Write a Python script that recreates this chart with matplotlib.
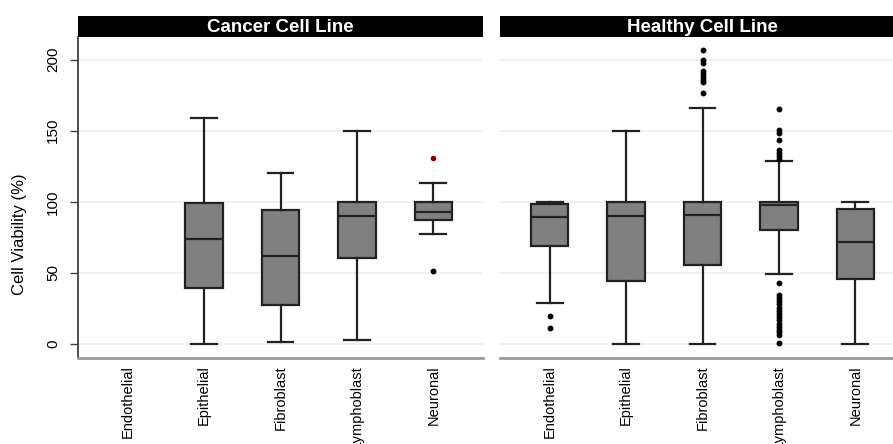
import matplotlib
matplotlib.use("Agg")
import matplotlib.pyplot as plt

plt.rcParams['font.family'] = ['Liberation Sans', 'DejaVu Sans']

categories = ["Endothelial", "Epithelial", "Fibroblast", "Lymphoblast", "Neuronal"]
panels = ["Cancer Cell Line", "Healthy Cell Line"]

# Five-number summaries per category: lower whisker, Q1, median, Q3, upper whisker
cancer_whislo = [None, 0, 1.5, 2.5, 77]
cancer_q1     = [None, 39.5, 27, 60.5, 87]
cancer_med    = [None, 74, 62, 90, 93]
cancer_q3     = [None, 99, 94, 100, 100]
cancer_whishi = [None, 159, 120, 149.5, 113.5]
cancer_fliers = [[], [], [], [], [51.5]]
cancer_flagged = [[], [], [], [], [131]]

healthy_whislo = [29, 0, 0, 49, 0]
healthy_q1     = [69, 44, 55.5, 80, 45.5]
healthy_med    = [89, 90, 91, 97.5, 71.5]
healthy_q3     = [98.5, 100, 100, 100, 95]
healthy_whishi = [100, 150, 166, 129, 100]
healthy_fliers = [
    [19.5, 11],
    [],
    [206.5, 199.5, 198, 192, 190, 188, 186, 184, 176.5],
    [165.5, 150.5, 148.5, 143.5, 136.5, 134.5, 132, 130,
     43, 34.5, 32.5, 30, 28, 25.5, 23, 21, 19, 16.5, 14, 12, 10, 8, 6, 0.5],
    [],
]
healthy_flagged = [[], [], [], [], []]

yticks = [0, 50, 100, 150, 200]

W, H = 893, 444
fig = plt.figure(figsize=(W / 100, H / 100), dpi=100)

ax_w = 405 / W
ax_b = 1 - 358 / H
ax_h = (358 - 37) / H
strip_h = 21 / H
lefts = [78 / W, 500 / W]

box_face = "#808080"
edge = "#222222"


def build_stats(whislo, q1, med, q3, whishi, fliers):
    stats, pos = [], []
    for i in range(len(categories)):
        if med[i] is None:
            continue
        stats.append(dict(whislo=whislo[i], q1=q1[i], med=med[i], q3=q3[i],
                          whishi=whishi[i], fliers=fliers[i]))
        pos.append(i + 1)
    return stats, pos


data = [
    (cancer_whislo, cancer_q1, cancer_med, cancer_q3, cancer_whishi, cancer_fliers, cancer_flagged),
    (healthy_whislo, healthy_q1, healthy_med, healthy_q3, healthy_whishi, healthy_fliers, healthy_flagged),
]

for k, (title, d) in enumerate(zip(panels, data)):
    ax = fig.add_axes([lefts[k], ax_b, ax_w, ax_h])
    stats, pos = build_stats(*d[:6])
    lw = 1.6
    ax.bxp(stats, positions=pos, widths=0.49, capwidths=0.34, patch_artist=True,
           showfliers=True,
           boxprops=dict(facecolor=box_face, edgecolor=edge, linewidth=lw),
           medianprops=dict(color=edge, linewidth=lw),
           whiskerprops=dict(color=edge, linewidth=lw),
           capprops=dict(color=edge, linewidth=lw),
           flierprops=dict(marker="o", markerfacecolor="black", markeredgecolor="black",
                           markersize=3.2, linestyle="none"),
           zorder=3)
    for i, pts in enumerate(d[6]):
        if pts:
            ax.plot([i + 1] * len(pts), pts, "o", color="#8b0000", markersize=3,
                    zorder=4)

    ax.set_xlim(0.35, 5.65)
    ax.set_ylim(-10, 216)
    ax.set_yticks(yticks)
    ax.set_xticks(range(1, len(categories) + 1))
    ax.set_xticklabels(categories, rotation=90, fontsize=10.5, va="top", ha="center")
    ax.tick_params(axis="x", length=0, pad=5)
    for y in yticks:
        ax.axhline(y, color="#e9f1f2", linewidth=1.2, zorder=0)

    for s in ["top", "right"]:
        ax.spines[s].set_visible(False)
    ax.spines["bottom"].set_color("#9a9a9a")
    ax.spines["bottom"].set_linewidth(2)

    if k == 0:
        ax.spines["left"].set_color("#404040")
        ax.spines["left"].set_linewidth(1.3)
        ax.tick_params(axis="y", length=6, width=1, color="#404040", pad=7,
                       labelsize=11)
        for lab in ax.get_yticklabels():
            lab.set_rotation(90)
            lab.set_va("center")
    else:
        ax.spines["left"].set_visible(False)
        ax.tick_params(axis="y", length=0, labelleft=False)

    strip = fig.add_axes([lefts[k], ax_b + ax_h, ax_w, strip_h])
    strip.set_facecolor("black")
    strip.set_xticks([])
    strip.set_yticks([])
    for s in strip.spines.values():
        s.set_visible(False)
    strip.text(0.5, 0.47, title, color="white", fontsize=13.5, fontweight="bold",
               ha="center", va="center", transform=strip.transAxes)

fig.text(20 / W, 1 - 234 / H, "Cell Viability (%)", rotation=90, fontsize=12,
         ha="center", va="center")

fig.savefig("out.png", dpi=100)
